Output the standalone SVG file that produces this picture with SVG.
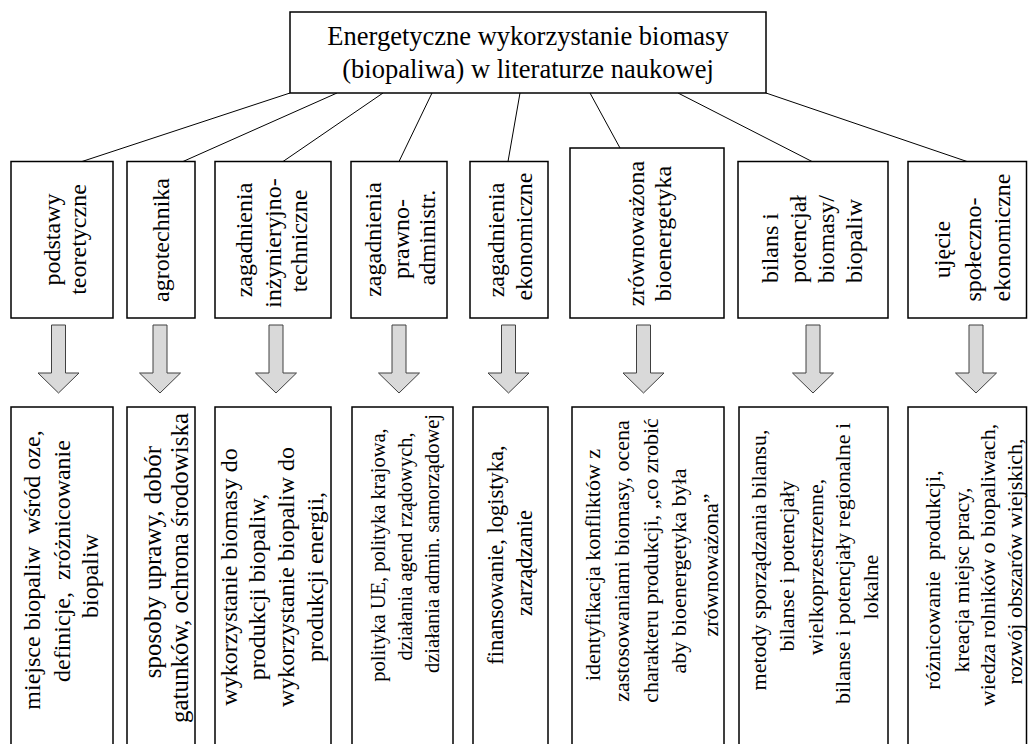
<svg xmlns="http://www.w3.org/2000/svg" xmlns:xlink="http://www.w3.org/1999/xlink" width="1028" height="744" viewBox="0 0 1028 744" font-family="'Liberation Serif', 'Times New Roman', serif">
  <style>
    .box { fill: #ffffff; stroke: #000000; stroke-width: 1.5; }
    .link { stroke: #000000; stroke-width: 1; fill: none; }
    .arrow { fill: #d9d9d9; stroke: #404040; stroke-width: 1; stroke-linejoin: miter; }
    text { font-family: "Liberation Serif", "Times New Roman", serif; fill: #000000; }
    .pre { white-space: pre; }
    .title { font-size: 26.5px; text-anchor: middle; }
    .cat { font-size: 24px; text-anchor: middle; }
    .cat-start { font-size: 24px; text-anchor: start; }
    .d24 { font-size: 24px; text-anchor: middle; }
    .d25 { font-size: 25px; text-anchor: middle; }
    .d20 { font-size: 20.5px; text-anchor: middle; }
    .d22 { font-size: 22px; text-anchor: middle; }
    .d225 { font-size: 22.5px; text-anchor: middle; }
  </style>
  <defs>
    <!-- block arrow pointing down, centred on x = 0 -->
    <polygon id="down-arrow" class="arrow" points="-7,325 7,325 7,373 20.5,373 0,393 -20.5,373 -7,373"/>
  </defs>

  <rect width="1028" height="744" fill="#ffffff"/>

  <!-- connectors from the root box to the category boxes -->
  <g id="connectors">
    <line class="link" x1="290" y1="93" x2="82" y2="161.5"/>
    <line class="link" x1="337" y1="93" x2="183" y2="161.5"/>
    <line class="link" x1="383" y1="93" x2="283" y2="161.5"/>
    <line class="link" x1="432" y1="93" x2="399" y2="161.5"/>
    <line class="link" x1="520" y1="93" x2="508" y2="161.5"/>
    <line class="link" x1="590" y1="93" x2="620" y2="148"/>
    <line class="link" x1="678" y1="93" x2="812" y2="161.5"/>
    <line class="link" x1="766" y1="93" x2="967" y2="161.5"/>
  </g>

  <!-- root -->
  <g id="root">
    <rect class="box" x="290" y="12" width="476" height="81"/>
    <text class="title" x="528" y="45">Energetyczne wykorzystanie biomasy</text>
    <text class="title" x="528" y="78">(biopaliwa) w literaturze naukowej</text>
  </g>

  <!-- category boxes (vertical labels) -->
  <g id="cat-podstawy">
    <rect class="box" x="11" y="161.5" width="102" height="156.5"/>
    <text class="cat" transform="translate(60.2,239.5) rotate(-90)">podstawy</text>
    <text class="cat" transform="translate(86.2,239.5) rotate(-90)">teoretyczne</text>
  </g>
  <g id="cat-agrotechnika">
    <rect class="box" x="127" y="161.5" width="68" height="156.5"/>
    <text class="cat" transform="translate(169.2,240) rotate(-90)">agrotechnika</text>
  </g>
  <g id="cat-inzynieryjne">
    <rect class="box" x="215" y="161.5" width="116" height="156.5"/>
    <text class="cat" transform="translate(252.2,240) rotate(-90)">zagadnienia</text>
    <text class="cat" transform="translate(281.2,243) rotate(-90)">inżynieryjno-</text>
    <text class="cat" transform="translate(307.2,241) rotate(-90)">techniczne</text>
  </g>
  <g id="cat-prawne">
    <rect class="box" x="351" y="161.5" width="96" height="156.5"/>
    <text class="cat" transform="translate(381.2,239.5) rotate(-90)">zagadnienia</text>
    <text class="cat" transform="translate(409.2,239) rotate(-90)">prawno-</text>
    <text class="cat" transform="translate(435.2,237.5) rotate(-90)">administr.</text>
  </g>
  <g id="cat-ekonomiczne">
    <rect class="box" x="470" y="161.5" width="78" height="156.5"/>
    <text class="cat" transform="translate(504.2,240) rotate(-90)">zagadnienia</text>
    <text class="cat" transform="translate(532.2,236.5) rotate(-90)">ekonomiczne</text>
  </g>
  <g id="cat-zrownowazona">
    <rect class="box" x="570" y="148" width="154" height="170"/>
    <text class="cat" transform="translate(644.2,233.5) rotate(-90)">zrównoważona</text>
    <text class="cat" transform="translate(671.2,233.5) rotate(-90)">bioenergetyka</text>
  </g>
  <g id="cat-bilans">
    <rect class="box" x="738" y="161.5" width="150" height="156.5"/>
    <text class="cat-start" transform="translate(778.2,283) rotate(-90)">bilans i</text>
    <text class="cat-start" transform="translate(806.2,283) rotate(-90)">potencjał</text>
    <text class="cat-start" transform="translate(834.2,283) rotate(-90)">biomasy/</text>
    <text class="cat-start" transform="translate(862.2,283) rotate(-90)">biopaliw</text>
  </g>
  <g id="cat-spoleczne">
    <rect class="box" x="908" y="161.5" width="118.5" height="156.5"/>
    <text class="cat" transform="translate(950.2,249.5) rotate(-90)">ujęcie</text>
    <text class="cat" transform="translate(981.2,249.5) rotate(-90)">społeczno-</text>
    <text class="cat" transform="translate(1010.2,237.5) rotate(-90)">ekonomiczne</text>
  </g>

  <!-- block arrows -->
  <g id="arrows">
    <use xlink:href="#down-arrow" href="#down-arrow" x="58.5"/>
    <use xlink:href="#down-arrow" href="#down-arrow" x="160"/>
    <use xlink:href="#down-arrow" href="#down-arrow" x="276"/>
    <use xlink:href="#down-arrow" href="#down-arrow" x="399"/>
    <use xlink:href="#down-arrow" href="#down-arrow" x="508.5"/>
    <use xlink:href="#down-arrow" href="#down-arrow" x="643.5"/>
    <use xlink:href="#down-arrow" href="#down-arrow" x="813"/>
    <use xlink:href="#down-arrow" href="#down-arrow" x="976"/>
  </g>

  <!-- detail boxes (run past the lower edge) -->
  <g id="det-podstawy">
    <rect class="box" x="11" y="407" width="102" height="360"/>
    <text class="d24 pre" xml:space="preserve" transform="translate(40.2,570) rotate(-90)">miejsce biopaliw  wśród oze,</text>
    <text class="d24 pre" xml:space="preserve" transform="translate(70.2,561) rotate(-90)">definicje,  zróżnicowanie</text>
    <text class="d24" transform="translate(98.2,576) rotate(-90)">biopaliw</text>
  </g>
  <g id="det-agrotechnika">
    <rect class="box" x="127" y="407" width="68" height="360"/>
    <text class="d25" transform="translate(160.5,562) rotate(-90)">sposoby uprawy, dobór</text>
    <text class="d25" transform="translate(187.5,568) rotate(-90)">gatunków, ochrona środowiska</text>
  </g>
  <g id="det-inzynieryjne">
    <rect class="box" x="215" y="407" width="116" height="360"/>
    <text class="d24" transform="translate(237.2,577) rotate(-90)">wykorzystanie biomasy do</text>
    <text class="d24" transform="translate(265.2,587) rotate(-90)">produkcji biopaliw,</text>
    <text class="d24" transform="translate(294.2,577) rotate(-90)">wykorzystanie biopaliw do</text>
    <text class="d24" transform="translate(323.2,577) rotate(-90)">produkcji energii,</text>
  </g>
  <g id="det-prawne">
    <rect class="box" x="352" y="407" width="101" height="360"/>
    <text class="d20" transform="translate(385,555) rotate(-90)">polityka UE, polityka krajowa,</text>
    <text class="d20" transform="translate(412,546.5) rotate(-90)">działania agend rządowych,</text>
    <text class="d20" transform="translate(439,543.5) rotate(-90)">działania admin. samorządowej</text>
  </g>
  <g id="det-ekonomiczne">
    <rect class="box" x="473" y="407" width="75" height="360"/>
    <text class="d225" transform="translate(502.75,555) rotate(-90)">finansowanie, logistyka,</text>
    <text class="d225" transform="translate(531.75,563) rotate(-90)">zarządzanie</text>
  </g>
  <g id="det-zrownowazona">
    <rect class="box" x="572" y="407" width="152" height="360"/>
    <text class="d22" transform="translate(599.6,565) rotate(-90)">identyfikacja konfliktów z</text>
    <text class="d22" transform="translate(628.6,561) rotate(-90)">zastosowaniami biomasy, ocena</text>
    <text class="d22" transform="translate(657.6,560.5) rotate(-90)">charakteru produkcji, „co zrobić</text>
    <text class="d22" transform="translate(685.6,571) rotate(-90)">aby bioenergetyka była</text>
    <text class="d22" transform="translate(717.6,565) rotate(-90)">zrównoważona”</text>
  </g>
  <g id="det-bilans">
    <rect class="box" x="739" y="407" width="149" height="360"/>
    <text class="d22" transform="translate(765.6,560) rotate(-90)">metody sporządzania bilansu,</text>
    <text class="d22" transform="translate(793.6,566) rotate(-90)">bilanse i potencjały</text>
    <text class="d22" transform="translate(822.6,567) rotate(-90)">wielkoprzestrzenne,</text>
    <text class="d22" transform="translate(849.6,563.5) rotate(-90)">bilanse i potencjały regionalne i</text>
    <text class="d22" transform="translate(877.6,587) rotate(-90)">lokalne</text>
  </g>
  <g id="det-spoleczne">
    <rect class="box" x="908" y="407" width="118.5" height="360"/>
    <text class="d22 pre" xml:space="preserve" transform="translate(939.6,580) rotate(-90)">różnicowanie  produkcji,</text>
    <text class="d22" transform="translate(968.6,580) rotate(-90)">kreacja miejsc pracy,</text>
    <text class="d22" transform="translate(994.6,565) rotate(-90)">wiedza rolników o biopaliwach,</text>
    <text class="d22" transform="translate(1021.6,561.5) rotate(-90)">rozwój obszarów wiejskich,</text>
  </g>
</svg>
